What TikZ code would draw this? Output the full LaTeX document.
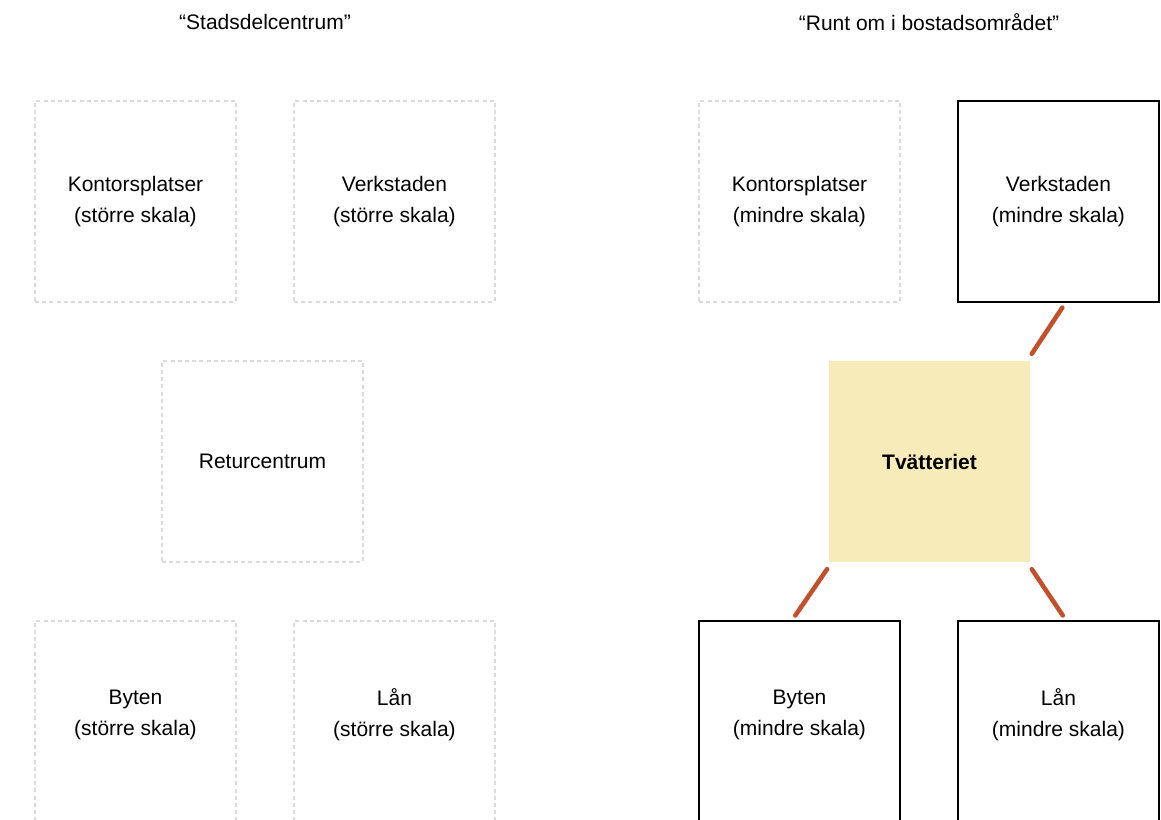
\documentclass[tikz,border=0pt]{standalone}
\usepackage{fontspec}
\setmainfont{Liberation Sans}
\usetikzlibrary{positioning, calc}
\definecolor{linkrust}{HTML}{C2502A}
\definecolor{washfill}{HTML}{F8EBBA}
\definecolor{ghostgrey}{HTML}{DADADA}

\begin{document}
\begin{tikzpicture}[x=0.75pt, y=-0.75pt, node distance=44.25pt and 43.5pt,
  every node/.style={font=\fontsize{15.75pt}{23.25pt}\selectfont, align=center},
  ghostbox/.style={draw=ghostgrey, line width=0.9pt, dash pattern=on 3pt off 2.4pt,
    minimum width=150.75pt, minimum height=150.75pt, inner sep=0pt, outer sep=0pt},
  solidbox/.style={draw=black, line width=1.4pt,
    minimum width=150.75pt, minimum height=150.75pt, inner sep=0pt, outer sep=0pt},
  washbox/.style={fill=washfill, minimum width=150.75pt, minimum height=150.75pt,
    inner sep=0pt, outer sep=0pt, font=\fontsize{15.75pt}{23.25pt}\selectfont\bfseries},
  lowtext/.style={text depth=13.8pt},
  link/.style={draw=linkrust, line width=3.4pt, line cap=round}]

  \clip (0,0) rectangle (1161,819);
  \useasboundingbox (0,0) rectangle (1161,819);

  % left group
  \node (titleA) at (265,22) {“Stadsdelcentrum”};
  \node[ghostbox] (kontorA) at (135.5,201.5) {Kontorsplatser\\(större skala)};
  \node[ghostbox, right=of kontorA] (verkA) {Verkstaden\\(större skala)};
  \node[ghostbox] (returA) at (262.5,461.5) {Returcentrum};
  \node[ghostbox, lowtext] (bytenA) at (135.5,721.5) {Byten\\(större skala)};
  \node[ghostbox, lowtext, right=of bytenA] (lanA) {Lån\\(större skala)};

  % right group
  \node (titleB) at (929,22) {“Runt om i bostadsområdet”};
  \node[ghostbox] (kontorB) at (799.5,201.5) {Kontorsplatser\\(mindre skala)};
  \node[solidbox, right=of kontorB] (verkB) {Verkstaden\\(mindre skala)};
  \node[washbox] (tvatt) at (929.5,461.5) {Tvätteriet};
  \node[solidbox, lowtext] (bytenB) at (799.5,721.5) {Byten\\(mindre skala)};
  \node[solidbox, lowtext, right=of bytenB] (lanB) {Lån\\(mindre skala)};

  \draw[link, shorten <=6.5pt, shorten >=5pt]
    ($(tvatt.north east)+(-3,0)$) -- ($(verkB.south)+(7.5,0)$);
  \draw[link, shorten <=6.5pt, shorten >=5pt]
    ($(tvatt.south west)+(3,0)$) -- ($(bytenB.north)+(-8,0)$);
  \draw[link, shorten <=6.5pt, shorten >=5pt]
    ($(tvatt.south east)+(-3,0)$) -- ($(lanB.north)+(8,0)$);
\end{tikzpicture}
\end{document}
